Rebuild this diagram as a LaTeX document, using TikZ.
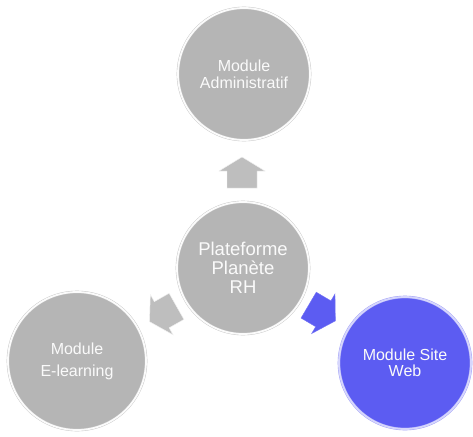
\documentclass[tikz,border=0pt]{standalone}
\usepackage{fontspec}
\setmainfont{Liberation Sans}
\definecolor{circgray}{RGB}{181,181,181}
\definecolor{arrgray}{RGB}{190,190,190}
\definecolor{webblue}{RGB}{92,92,242}
\definecolor{rimgray}{RGB}{160,160,160}
\tikzset{
  bubble/.style={circle, inner sep=0pt, fill=circgray, draw=rimgray!60, line width=0.4pt,
    double=white!95!circgray, double distance=1.8pt, text=white!96!gray, align=center},
  bluebubble/.style={bubble, fill=webblue, draw=webblue!60!white, double=white!75!webblue},
  blockarrow/.style={fill=arrgray, draw=white!80!arrgray, line width=0.4pt},
  bluearrow/.style={fill=webblue, draw=webblue!85!white, line width=0.4pt},
}
\newcommand{\blockarr}[4]{%
  \path[#1, shift={(#2)}, rotate=#3] (-15.5,-15) -- (1.5,-15) -- (1.5,-23) -- (15.5,0)
    -- (1.5,23) -- (1.5,15) -- (-15.5,15) -- cycle;
  \coordinate (#4) at (#2);}
\begin{document}
\begin{tikzpicture}[x=1pt,y=1pt]
\useasboundingbox (0,0) rectangle (473,-436);
\fill[white] (0,0) rectangle (473,-436);
% circles
\node[bubble, minimum size=132pt, font=\fontsize{16}{17}\selectfont] (adm) at (244,-74)
  {Module\\Administratif};
\node[bubble, minimum size=132pt, font=\fontsize{18.5}{19}\selectfont] (plat) at (243,-268)
  {Plateforme\\Planète\\RH};
\node[bubble, minimum size=138pt, font=\fontsize{16}{22}\selectfont] (elearn) at (77,-361)
  {Module\\E-learning};
\node[bluebubble, minimum size=132pt, font=\fontsize{16}{16.5}\selectfont] (web) at (405,-363)
  {Module Site\\Web};
% arrows
\blockarr{blockarrow}{242,-172.5}{90}{aup}
\blockarr{blockarrow}{163,-314}{209.5}{aleft}
\blockarr{bluearrow}{322,-313}{-30.5}{aright}
\end{tikzpicture}
\end{document}
